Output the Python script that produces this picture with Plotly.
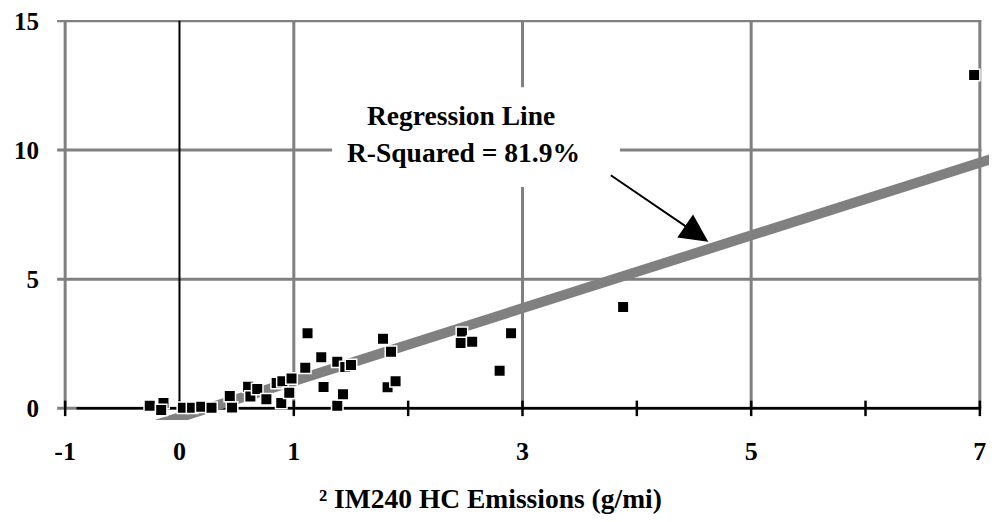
import plotly.graph_objects as go

# ---- data ----
x_vals = [-0.26, -0.14, -0.16, 0.03, 0.11, 0.19, 0.28, 0.46, 0.44, 0.60, 0.62, 0.68,
          0.76, 0.85, 0.89, 0.90, 0.96, 0.98, 1.10, 1.12, 1.24, 1.26, 1.38, 1.38,
          1.43, 1.45, 1.50, 1.78, 1.82, 1.85, 1.89, 2.47, 2.46, 2.56, 2.80, 2.90,
          3.88, 6.95]
y_vals = [0.10, 0.21, -0.06, 0.02, 0.02, 0.06, 0.02, 0.03, 0.48, 0.84, 0.46, 0.75,
          0.35, 0.98, 0.21, 1.05, 0.60, 1.16, 1.57, 2.91, 1.98, 0.83, 1.80, 0.10,
          0.55, 1.60, 1.68, 2.69, 0.82, 2.19, 1.05, 2.93, 2.53, 2.58, 1.46, 2.91,
          3.92, 12.90]

reg_x = [-0.3, 7.2]
reg_y = [-0.77, 9.79]

x_tickvals = [-1, 0, 1, 3, 5, 7]
x_ticktext = ["-1", "0", "1", "3", "5", "7"]
y_tickvals = [0, 5, 10, 15]
x_grid = [-1, 1, 3, 5, 7]
x_minor = [-1, 0, 1, 2, 3, 4, 5, 6, 7]

x_title = "² IM240 HC Emissions (g/mi)"
note_line1 = "Regression Line"
note_line2 = "R-Squared = 81.9%"

GRAY = "#808080"
FONT = "Liberation Serif"

fig = go.Figure()

fig.add_trace(go.Scatter(
    x=reg_x, y=reg_y, mode="lines",
    line=dict(color=GRAY, width=10),
    hoverinfo="skip", showlegend=False,
))
fig.add_trace(go.Scatter(
    x=x_vals, y=y_vals, mode="markers",
    marker=dict(symbol="square", size=11.5, color="black",
                line=dict(color="white", width=1.5)),
    showlegend=False,
))

shapes = []
# horizontal gridlines
for yv in y_tickvals:
    shapes.append(dict(type="line", xref="x", yref="y", x0=-1.07, x1=7.013,
                       y0=yv, y1=yv, line=dict(color=GRAY, width=3), layer="below"))
# vertical gridlines
for xv in x_grid:
    shapes.append(dict(type="line", xref="x", yref="y", x0=xv, x1=xv,
                       y0=0, y1=15, line=dict(color=GRAY, width=3), layer="below"))
# white box behind the note
shapes.append(dict(type="rect", xref="x", yref="y", x0=1.335, x1=3.853,
                   y0=8.57, y1=12.43, fillcolor="white", line=dict(width=0),
                   layer="below"))
# black axis lines
shapes.append(dict(type="line", xref="x", yref="y", x0=0, x1=0, y0=-0.45, y1=15,
                   line=dict(color="black", width=2), layer="below"))
shapes.append(dict(type="line", xref="x", yref="y", x0=-0.9, x1=7.0, y0=0, y1=0,
                   line=dict(color="black", width=2.5), layer="below"))
for xv in x_minor:
    shapes.append(dict(type="line", xref="x", yref="y", x0=xv, x1=xv, y0=-0.3, y1=0.3,
                       line=dict(color="black", width=2.5), layer="below"))

annotations = [
    dict(x=2.462, y=11.35, xref="x", yref="y", text=note_line1, showarrow=False,
         font=dict(family=FONT, size=27.5, color="black", weight="bold")),
    dict(x=2.48, y=9.92, xref="x", yref="y", text=note_line2, showarrow=False,
         font=dict(family=FONT, size=27.5, color="black", weight="bold")),
    dict(x=4.625, y=6.45, ax=3.759, ay=9.06, xref="x", yref="y", axref="x", ayref="y",
         text="", showarrow=True, arrowhead=2, arrowsize=2.8, arrowwidth=2,
         arrowcolor="black"),
    dict(x=2.724, y=-0.197, xref="x", yref="paper", text=x_title, showarrow=False,
         yanchor="middle",
         font=dict(family=FONT, size=27.5, color="black", weight="bold")),
]

# the page body adds an 8px offset, so the figure is 8px smaller on each axis
fig.update_layout(
    width=989, height=514,
    margin=dict(l=48, r=0, t=12, b=102),
    paper_bgcolor="white", plot_bgcolor="white",
    font=dict(family=FONT, color="black"),
    shapes=shapes, annotations=annotations,
    xaxis=dict(range=[-1.08, 7.15], showgrid=False, zeroline=False, showline=False,
               automargin=False, ticklabeloverflow="allow",
               tickmode="array", tickvals=x_tickvals, ticktext=x_ticktext,
               ticks="", ticklabelstandoff=13,
               tickfont=dict(family=FONT, size=26, color="black", weight="bold")),
    yaxis=dict(range=[-0.45, 15.03], showgrid=False, zeroline=False, showline=False,
               automargin=False, ticklabeloverflow="allow",
               tickmode="array", tickvals=y_tickvals,
               ticks="", ticklabelstandoff=16,
               tickfont=dict(family=FONT, size=25, color="black", weight="bold")),
)

fig.write_html("out.html")
